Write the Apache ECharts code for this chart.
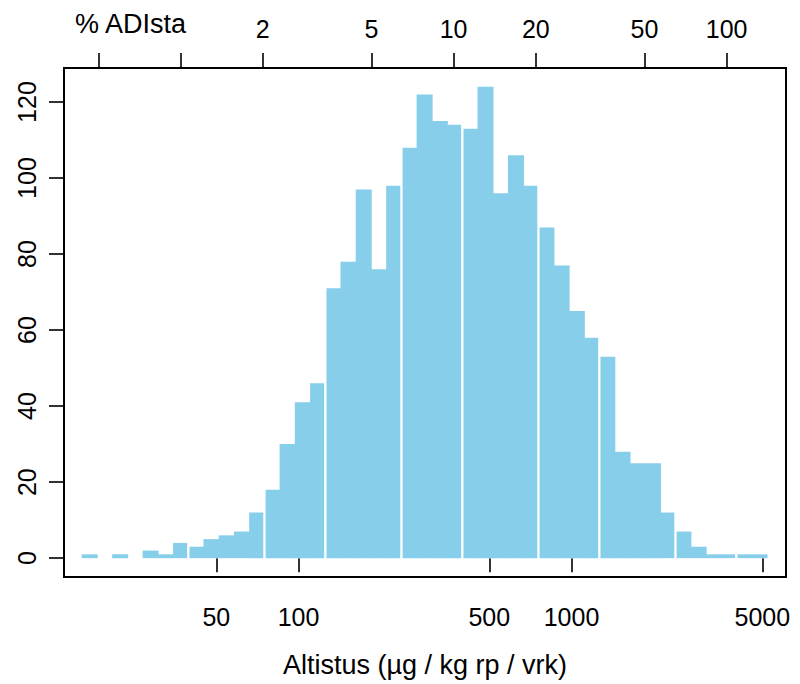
<!DOCTYPE html>
<html><head><meta charset="utf-8">
<script src="https://cdn.jsdelivr.net/npm/echarts@6/dist/echarts.min.js"></script>
<style>html,body{margin:0;padding:0;background:#fff}#c{width:800px;height:684px}</style>
</head><body><div id="c"></div>
<script>
// Histogram counts per bin (equal-width bins on log10 scale)
const counts = [1,0,1,0,2,1,4,3,5,6,7,12,18,30,41,46,71,78,97,76,98,108,122,115,114,113,124,96,106,98,87,77,65,58,53,28,25,25,12,7,3,1,1,1,1];
const binStartLog = 1.2059;   // log10 of first bin's lower edge (µg/kg)
const binWidthLog = 0.05576;  // bin width in log10 units
const gapBefore = [7,12,16,21,25,30,34,39,43]; // bins preceded by a white separator
const xRangeLog = [1.141, 3.7857];
const bottomTicks = [50,100,500,1000,5000];
const yTicks = [0,20,40,60,80,100,120];
const yRange = [-4.96, 128.96];
const adiDose = 3700; // µg/kg rp/vrk = 100 % ADI
const adiPercentTicks = [0.5,1,2,5,10,20,50,100];
const adiPercentLabels = [2,5,10,20,50,100];
const xTitle = 'Altistus (µg / kg rp / vrk)';
const topTitle = '% ADIsta';

const FONT = "'Liberation Sans', Arial, Helvetica, sans-serif";
const barData = counts.map((c, i) => [binStartLog + i*binWidthLog, binStartLog + (i+1)*binWidthLog, c, i]);
const lg = v => Math.log10(v);

const chart = echarts.init(document.getElementById('c'), null, {renderer: 'svg'});
chart.setOption({
  animation: false,
  backgroundColor: '#fff',
  grid: {left: 64, right: 14, top: 68, bottom: 107, show: true, borderColor: '#000', borderWidth: 2,
    containLabel: false, outerBoundsMode: 'none'},
  xAxis: [{
    type: 'value', position: 'bottom', min: xRangeLog[0], max: xRangeLog[1],
    axisLine: {show: false}, splitLine: {show: false},
    axisTick: {show: true, length: 14, customValues: bottomTicks.map(lg), lineStyle: {color: '#000', width: 1.6}},
    axisLabel: {customValues: bottomTicks.map(lg), formatter: v => String(Math.round(Math.pow(10, v))),
      color: '#000', fontSize: 25, fontFamily: FONT, margin: 27},
    name: xTitle, nameLocation: 'middle', nameGap: 74,
    nameTextStyle: {color: '#000', fontSize: 27, fontFamily: FONT}
  }, {
    type: 'value', position: 'top', min: xRangeLog[0], max: xRangeLog[1],
    axisLine: {show: false}, splitLine: {show: false},
    axisTick: {show: true, length: 15, customValues: adiPercentTicks.map(p => lg(p/100*adiDose)), lineStyle: {color: '#000', width: 1.6}},
    axisLabel: {customValues: adiPercentLabels.map(p => lg(p/100*adiDose)),
      formatter: v => String(Math.round(Math.pow(10, v) / adiDose * 1000) / 10),
      color: '#000', fontSize: 25, fontFamily: FONT, margin: 27}
  }],
  yAxis: [{
    type: 'value', min: yRange[0], max: yRange[1],
    axisLine: {show: false}, splitLine: {show: false},
    axisTick: {show: true, length: 15, customValues: yTicks, lineStyle: {color: '#000', width: 1.6}},
    axisLabel: {customValues: yTicks, rotate: 90, color: '#000', fontSize: 25, fontFamily: FONT, margin: 25}
  }],
  graphic: [{
    type: 'text', left: 75, top: 10,
    style: {text: topTitle, fill: '#000', font: "27px 'Liberation Sans', Arial, sans-serif"}
  }],
  series: [{
    type: 'custom', xAxisIndex: 0, yAxisIndex: 0, clip: true,
    data: barData,
    renderItem: function (params, api) {
      const i = api.value(3), c = api.value(2);
      if (!c) return null;
      const p0 = api.coord([api.value(0), c]);
      const p1 = api.coord([api.value(1), 0]);
      let x0 = p0[0], x1 = p1[0];
      if (gapBefore.includes(i)) x0 += 1.2;
      if (gapBefore.includes(i + 1)) x1 -= 1.1; else x1 += 0.8;
      return {type: 'rect', shape: {x: x0, y: p0[1], width: x1 - x0, height: p1[1] - p0[1]}, style: {fill: '#87CEEB'}};
    }
  }]
});
</script></body></html>
